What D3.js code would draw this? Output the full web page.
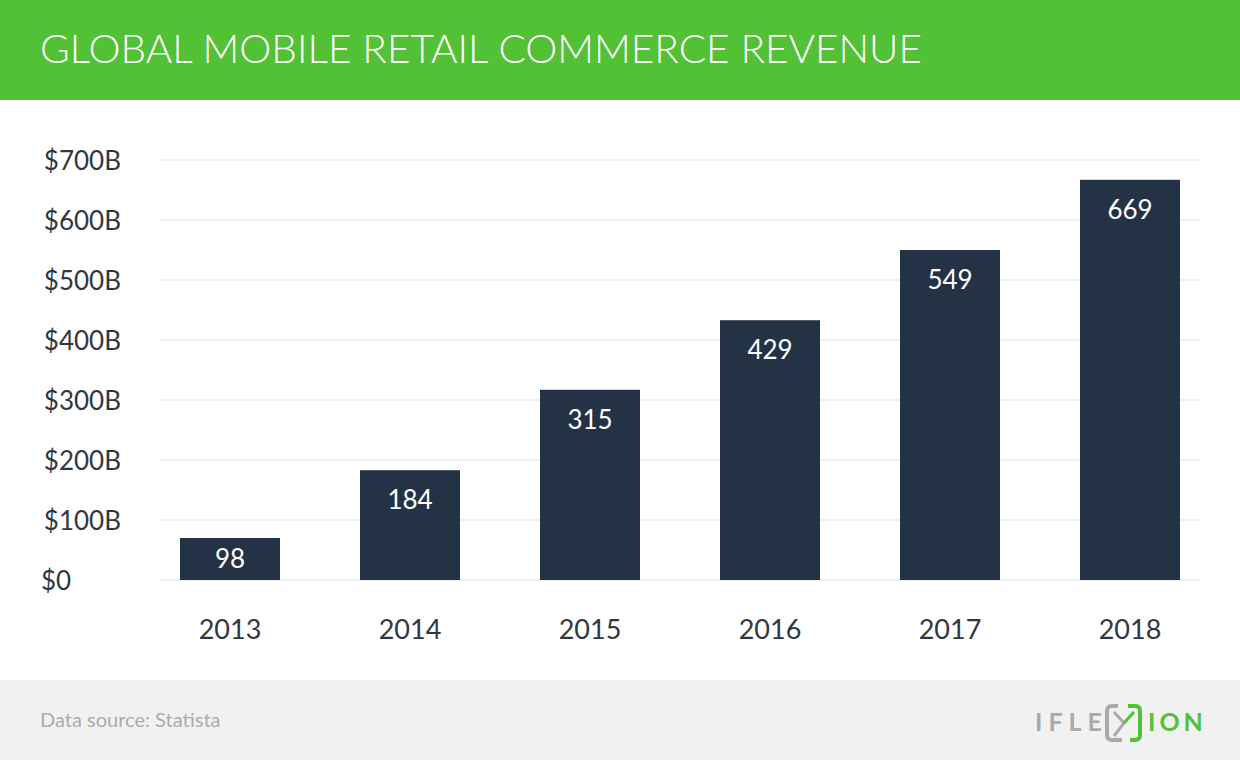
<!DOCTYPE html>
<html><head><meta charset="utf-8">
<script src="https://cdn.jsdelivr.net/npm/d3@7"></script>
<style>body{margin:0;background:#fff;} svg{display:block;}</style>
</head><body>
<svg id="c" width="1240" height="760"></svg>
<script>
const title = "GLOBAL MOBILE RETAIL COMMERCE REVENUE";
const years = ["2013","2014","2015","2016","2017","2018"];
const labels = ["98","184","315","429","549","669"];
const barValues = [70,183,317,433,550,667];
const yTicks = [0,100,200,300,400,500,600,700];
const yTickLabels = ["$0","$100B","$200B","$300B","$400B","$500B","$600B","$700B"];
const source = "Data source: Statista";

const svg = d3.select("#c");
const font = "Lato, 'Open Sans', sans-serif";

svg.append("rect").attr("x",0).attr("y",0).attr("width",1240).attr("height",100).attr("fill","#52c135");
svg.append("text").attr("x",40).attr("y",63).attr("fill","#fff")
  .attr("font-family",font).attr("font-weight",300).attr("font-size",39)
  .attr("textLength",882).attr("lengthAdjust","spacingAndGlyphs").text(title);

const y = d3.scaleLinear().domain([0,700]).range([580,160]);
const x = d3.scaleBand().domain(years).range([140,1220]).paddingInner(0.4444).paddingOuter(0.2222);

// gridlines
svg.append("g").selectAll("line").data(yTicks).join("line")
  .attr("x1",160).attr("x2",1200).attr("y1",d=>y(d)).attr("y2",d=>y(d))
  .attr("stroke","#efefef").attr("stroke-width",2);

// y axis labels
const yAxis = d3.axisLeft(y).tickValues(yTicks).tickSize(0).tickPadding(0)
  .tickFormat((d,i)=>yTickLabels[i]);
const gy = svg.append("g").attr("transform","translate(121,0)").call(yAxis);
gy.select(".domain").remove();
gy.selectAll("text").attr("font-family",font).attr("font-size",26).attr("fill","#2f3842").attr("dy","0.35em");
gy.selectAll(".tick").filter(d=>d===0).select("text").attr("text-anchor","start").attr("x",-80);

// x axis labels
const xAxis = d3.axisBottom(x).tickSize(0).tickPadding(0);
const gx = svg.append("g").attr("transform","translate(0,630)").call(xAxis);
gx.select(".domain").remove();
gx.selectAll("text").attr("font-family",font).attr("font-size",27).attr("fill","#2f3842").attr("dy","0.35em");

// bars
svg.append("g").selectAll("rect").data(years).join("rect")
  .attr("x",d=>x(d)).attr("width",x.bandwidth())
  .attr("y",(d,i)=>y(barValues[i])).attr("height",(d,i)=>y(0)-y(barValues[i]))
  .attr("fill","#233345");

svg.append("g").selectAll("text").data(years).join("text")
  .attr("x",d=>x(d)+x.bandwidth()/2)
  .attr("y",(d,i)=>{const t=y(barValues[i]); return Math.min(t+30,(t+y(0))/2);})
  .attr("dy","0.35em").attr("text-anchor","middle")
  .attr("font-family",font).attr("font-size",26).attr("fill","#fff")
  .text((d,i)=>labels[i]);

// footer
svg.append("rect").attr("x",0).attr("y",680).attr("width",1240).attr("height",80).attr("fill","#f1f1f1");
svg.append("text").attr("x",40).attr("y",727).attr("font-family",font).attr("font-size",20)
  .attr("fill","#ababab").text(source);

// logo
const lg = svg.append("g");
lg.append("text").attr("x",1035).attr("y",731).attr("font-family",font).attr("font-weight",700)
  .attr("font-size",25).attr("fill","#a9a9a9").attr("letter-spacing",6).text("IFLE");
lg.append("path").attr("d","M1118,706 L1112,706 Q1107,706 1107,711 L1107,735 Q1107,740 1112,740 L1122,740")
  .attr("fill","none").attr("stroke","#a9a9a9").attr("stroke-width",4);
lg.append("path").attr("d","M1128,706 L1135,706 Q1140,706 1140,711 L1140,735 Q1140,740 1135,740 L1130,740")
  .attr("fill","none").attr("stroke","#52c135").attr("stroke-width",4);
lg.append("path").attr("d","M1114,712 L1124,723 L1114,736").attr("fill","none").attr("stroke","#a9a9a9").attr("stroke-width",3);
lg.append("path").attr("d","M1134,712 L1124,723").attr("fill","none").attr("stroke","#52c135").attr("stroke-width",3);
lg.append("text").attr("x",1148).attr("y",731).attr("font-family",font).attr("font-weight",700)
  .attr("font-size",25).attr("fill","#52c135").attr("letter-spacing",4).text("ION");
</script>
</body></html>
